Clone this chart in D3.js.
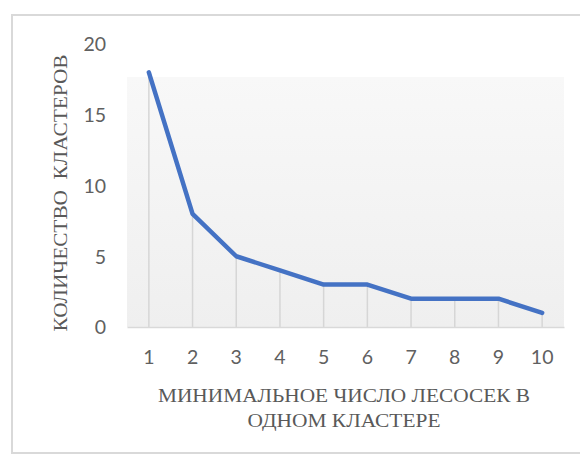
<!DOCTYPE html>
<html>
<head>
<meta charset="utf-8">
<script src="https://cdn.jsdelivr.net/npm/d3@7"></script>
<style>
  html, body { margin: 0; padding: 0; background: #fff; }
  svg { display: block; }
</style>
</head>
<body>
<svg id="chart" width="580" height="455"></svg>
<script>
// Minimal number of cutting areas per cluster vs. resulting number of clusters
const categories = ["1", "2", "3", "4", "5", "6", "7", "8", "9", "10"];
const clusterCounts = [18, 8, 5, 4, 3, 3, 2, 2, 2, 1];
const yTicks = [0, 5, 10, 15, 20];
const xTitleLines = ["МИНИМАЛЬНОЕ ЧИСЛО ЛЕСОСЕК В", "ОДНОМ КЛАСТЕРЕ"];
const yTitle = "КОЛИЧЕСТВО  КЛАСТЕРОВ";

const svg = d3.select("#chart");

// chart frame
svg.append("rect")
  .attr("x", 12).attr("y", 15)
  .attr("width", 600).attr("height", 438)
  .attr("fill", "#fff")
  .attr("stroke", "#d9d9d9")
  .attr("stroke-width", 2);

const plot = { left: 127, right: 564, top: 44, bottom: 327 };

const x = d3.scaleBand()
  .domain(categories)
  .range([plot.left, plot.right]);

const y = d3.scaleLinear()
  .domain([0, 20])
  .range([plot.bottom, plot.top]);

// plot area fill
const defs = svg.append("defs");
const grad = defs.append("linearGradient")
  .attr("id", "plotFill").attr("x1", 0).attr("y1", 0).attr("x2", 0).attr("y2", 1);
grad.append("stop").attr("offset", "0%").attr("stop-color", "#f8f8f8");
grad.append("stop").attr("offset", "100%").attr("stop-color", "#efefef");

svg.append("rect")
  .attr("x", plot.left).attr("y", 77)
  .attr("width", plot.right - plot.left).attr("height", plot.bottom - 77)
  .attr("fill", "url(#plotFill)");

const cx = d => x(d) + x.bandwidth() / 2;

// drop lines from each point to the axis
svg.append("g")
  .selectAll("line")
  .data(categories)
  .join("line")
  .attr("x1", d => cx(d)).attr("x2", d => cx(d))
  .attr("y1", (d, i) => y(clusterCounts[i]))
  .attr("y2", plot.bottom)
  .attr("stroke", "#d6d6d6")
  .attr("stroke-width", 1.5);

const tickFont = "Lato, 'Open Sans', sans-serif";

// x axis
const xAxis = svg.append("g")
  .attr("transform", `translate(0,${plot.bottom})`)
  .call(d3.axisBottom(x).tickSize(0).tickPadding(23));
xAxis.select(".domain").attr("stroke", "#d9d9d9").attr("stroke-width", 1.5);
xAxis.selectAll("text")
  .attr("fill", "#606060")
  .style("font-family", tickFont)
  .style("font-size", "19.5px");

// y axis (labels only)
const yAxis = svg.append("g")
  .attr("transform", `translate(${plot.left - 21},0)`)
  .call(d3.axisLeft(y).tickValues(yTicks).tickSize(0).tickPadding(0));
yAxis.select(".domain").remove();
yAxis.selectAll("text")
  .attr("fill", "#606060")
  .attr("dy", "0.35em")
  .style("font-family", tickFont)
  .style("font-size", "19.5px");

// data line
const line = d3.line()
  .x((d, i) => cx(categories[i]))
  .y(d => y(d));

svg.append("path")
  .datum(clusterCounts)
  .attr("d", line)
  .attr("fill", "none")
  .attr("stroke", "#4472c4")
  .attr("stroke-width", 4.5)
  .attr("stroke-linejoin", "round")
  .attr("stroke-linecap", "round");

// axis titles
const titleFont = "'Liberation Serif', 'Times New Roman', serif";
const titleStyle = sel => sel
  .attr("fill", "#595959")
  .attr("text-anchor", "middle")
  .attr("lengthAdjust", "spacingAndGlyphs")
  .style("font-family", titleFont)
  .style("font-size", "19px");

svg.append("text")
  .attr("x", 344).attr("y", 402)
  .attr("textLength", 372)
  .call(titleStyle)
  .text(xTitleLines[0]);
svg.append("text")
  .attr("x", 344).attr("y", 427)
  .attr("textLength", 193)
  .call(titleStyle)
  .text(xTitleLines[1]);

svg.append("text")
  .attr("transform", "translate(67,193) rotate(-90)")
  .attr("textLength", 277)
  .call(titleStyle)
  .style("white-space", "pre")
  .text(yTitle);
</script>
</body>
</html>
